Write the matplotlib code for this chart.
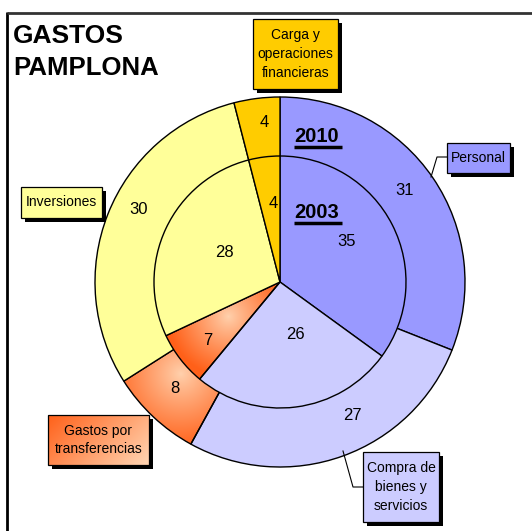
import numpy as np
import matplotlib
matplotlib.use("Agg")
import matplotlib.pyplot as plt
from matplotlib.patches import Rectangle

plt.rcParams['font.family'] = ['Liberation Sans', 'DejaVu Sans']

# datos (porcentaje del gasto)
categorias = ['Personal', 'Compra de\nbienes y\nservicios', 'Gastos por\ntransferencias',
              'Inversiones', 'Carga y\noperaciones\nfinancieras']
gastos_2010 = [31, 27, 8, 30, 4]
gastos_2003 = [35, 26, 7, 28, 4]
colores = ['#9999FF', '#CCCCFF', '#FF6633', '#FFFF99', '#FFCC00']

W, H = 532, 531


def Y(y):
    # coordenada de pixel (desde arriba) -> coordenada de datos
    return H - y


fig = plt.figure(figsize=(W / 100, H / 100), dpi=100)
ax = fig.add_axes([0, 0, 1, 1])

centro = (280, Y(282))
r_ext, r_int = 185, 126

w_ext, _ = ax.pie(gastos_2010, colors=colores, startangle=90, counterclock=False,
                  center=centro, radius=r_ext,
                  wedgeprops=dict(edgecolor='black', linewidth=1.0))
w_int, _ = ax.pie(gastos_2003, colors=colores, startangle=90, counterclock=False,
                  center=centro, radius=r_int,
                  wedgeprops=dict(edgecolor='black', linewidth=1.0))
for w in w_ext:
    w.set_zorder(2)
for w in w_int:
    w.set_zorder(4)

ax.set_xlim(0, W)
ax.set_ylim(0, H)
ax.set_aspect('auto')
ax.axis('off')

claro = np.array([1.0, 0.82, 0.68])
oscuro = np.array([1.0, 0.38, 0.10])
yy, xx = np.mgrid[0:H, 0:W] + 0.5


def degradado(cx, cy, radio, clip, z):
    d = np.hypot(xx - cx, yy - cy) / radio
    t = np.clip(d, 0, 1)[..., None] ** 0.9
    img = claro * (1 - t) + oscuro * t
    im = ax.imshow(img, extent=(0, W, 0, H), origin='lower', zorder=z,
                   interpolation='bilinear')
    im.set_clip_path(clip)


# etiquetas de valores (desplazamiento de angulo y distancia, como en Excel)
ajuste_ext = [(2.2, 155), (8.5, 152), (-1.5, 150), (-5.6, 159), (-1.5, 160)]
ajuste_int = [(4.5, 78), (8.6, 55), (1.5, 93), (-3.0, 63), (-2.0, 79)]
for ws, vals, ajustes in ((w_ext, gastos_2010, ajuste_ext), (w_int, gastos_2003, ajuste_int)):
    for w, v, (da, dd) in zip(ws, vals, ajustes):
        ang = np.deg2rad((w.theta1 + w.theta2) / 2 + da)
        x = centro[0] + dd * np.cos(ang)
        y = centro[1] + dd * np.sin(ang)
        ax.text(x, y, str(v), ha='center', va='center', fontsize=12, zorder=8)

# relleno degradado de "Gastos por transferencias"
for w, dd, rad, z in ((w_ext[2], 135, 75, 1.9), (w_int[2], 62, 60, 3.9)):
    ang = np.deg2rad((w.theta1 + w.theta2) / 2 - 4)
    degradado(centro[0] + dd * np.cos(ang), centro[1] + dd * np.sin(ang), rad, w, z)
    w.set_facecolor('none')

# años
for txt, xb, yb in (('2010', 294, 142), ('2003', 294, 218)):
    ax.text(xb, Y(yb), txt, fontsize=14.5, fontweight='bold', ha='left',
            va='baseline', zorder=9)
    ax.plot([xb, xb + 48], [Y(yb + 5), Y(yb + 5)], color='black', lw=2.5,
            solid_capstyle='butt', zorder=9)

# título
ax.text(13, Y(43), 'GASTOS', fontsize=19, fontweight='bold', va='baseline', ha='left')
ax.text(13, Y(75), 'PAMPLONA', fontsize=18.5, fontweight='bold', va='baseline', ha='left')


# cajas de leyenda
def caja(x0, y0, x1, y1, texto, color, grad=False):
    ax.add_patch(Rectangle((x0 + 4, Y(y1) - 4), x1 - x0, y1 - y0, facecolor='black',
                           edgecolor='none', zorder=10))
    r = Rectangle((x0, Y(y1)), x1 - x0, y1 - y0, facecolor=color, edgecolor='black',
                  lw=0.9, zorder=11)
    ax.add_patch(r)
    if grad:
        gy, gx = np.mgrid[0:50, 0:100]
        t = np.clip(gx / 100 * 0.7 + gy / 50 * 0.35, 0, 1)[..., None]
        img = oscuro * (1 - t) + claro * t
        ax.imshow(img, extent=(x0, x1, Y(y1), Y(y0)), origin='upper', zorder=11.5,
                  interpolation='bilinear', aspect='auto')
        r.set_facecolor('none')
        r.set_zorder(12)
    ax.text((x0 + x1) / 2, Y((y0 + y1) / 2), texto, ha='center', va='center',
            fontsize=10, linespacing=1.45, zorder=13)


caja(447, 143, 510, 173, categorias[0], colores[0])
caja(363, 452, 439, 522, categorias[1], colores[1])
caja(48, 415, 149, 465, categorias[2], colores[2], grad=True)
caja(21, 187, 102, 218, categorias[3], colores[3])
caja(253, 19, 338, 89, categorias[4], colores[4])

# líneas guía
ax.plot([447, 437, 431], [Y(157), Y(157), Y(177)], color='black', lw=0.8, zorder=9)
ax.plot([363, 353, 343], [Y(487), Y(487), Y(451)], color='black', lw=0.8, zorder=9)

# marco
ax.plot([7, 7], [0, Y(12)], color='black', lw=2, solid_capstyle='butt', zorder=20)
ax.plot([7, W], [Y(12.5), Y(12.5)], color='#333333', lw=2, solid_capstyle='butt', zorder=20)

fig.savefig('out.png', dpi=100)
